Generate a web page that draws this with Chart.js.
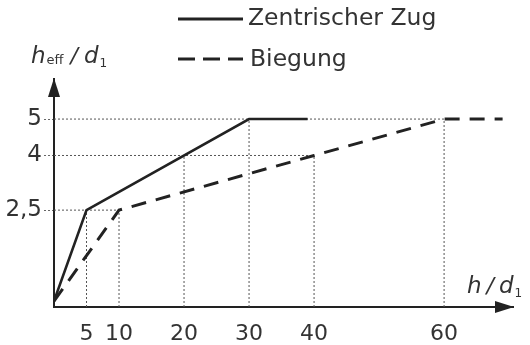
<!DOCTYPE html>
<html>
<head>
<meta charset="utf-8">
<script src="https://cdn.jsdelivr.net/npm/chart.js@4"></script>
<style>
  html, body { margin: 0; padding: 0; background: #fff; }
  .chart-container { position: relative; width: 530px; height: 345px; }
</style>
</head>
<body>
<div class="chart-container"><canvas id="chart"></canvas></div>
<script>
// values (h/d1 -> heff/d1)
const zugX = [0, 5, 30, 39];
const zugY = [0, 2.5, 5, 5];
const biegungX = [0, 10, 40, 60, 69];
const biegungY = [0, 2.5, 4, 5, 5];

// dotted helper lines
const guideX = [5, 10, 20, 30, 40, 60];
const guideTop = [2.5, 2.5, 4, 5, 4, 5];
const levelY = [2.5, 4, 5];
const levelEnd = [10, 40, 60];

const xTicks = [5, 10, 20, 30, 40, 60];
const yTicks = [2.5, 4, 5];
const seriesNames = ['Zentrischer Zug', 'Biegung'];

const xMin = 0, xMax = 70.6, yMin = -0.16, yMax = 6.1;
const ink = '#222';
const font = '"DejaVu Sans", sans-serif';

const toPts = (xs, ys) => xs.map((x, i) => ({ x: x, y: ys[i] }));

const guideStyle = {
  borderColor: '#555',
  borderWidth: 1,
  borderDash: [2, 2],
  pointRadius: 0,
  fill: false,
};

const guides = [];
guideX.forEach((x, i) => {
  guides.push(Object.assign({ data: [{ x: x, y: yMin }, { x: x, y: guideTop[i] }] }, guideStyle));
});
levelY.forEach((y, i) => {
  guides.push(Object.assign({ data: [{ x: xMin, y: y }, { x: levelEnd[i], y: y }] }, guideStyle));
});

// legend, arrows and axis titles
const decor = {
  id: 'decor',
  afterDraw(chart) {
    const { ctx, chartArea: a } = chart;
    ctx.save();
    ctx.fillStyle = ink;
    ctx.strokeStyle = ink;

    // arrow heads
    ctx.beginPath();
    ctx.moveTo(a.left, a.top - 1);
    ctx.lineTo(a.left - 6, a.top + 18);
    ctx.lineTo(a.left + 6, a.top + 18);
    ctx.closePath();
    ctx.fill();
    ctx.beginPath();
    ctx.moveTo(a.right + 1, a.bottom);
    ctx.lineTo(a.right - 18, a.bottom - 6);
    ctx.lineTo(a.right - 18, a.bottom + 6);
    ctx.closePath();
    ctx.fill();

    // legend
    ctx.lineWidth = 3;
    ctx.beginPath();
    ctx.moveTo(178, 19);
    ctx.lineTo(243, 19);
    ctx.stroke();
    ctx.setLineDash([17, 8]);
    ctx.beginPath();
    ctx.moveTo(178, 59);
    ctx.lineTo(243, 59);
    ctx.stroke();
    ctx.setLineDash([]);

    ctx.fillStyle = '#333';
    ctx.textBaseline = 'middle';
    ctx.textAlign = 'left';
    ctx.font = '23.5px ' + font;
    ctx.fillText(seriesNames[0], 248, 19);
    ctx.fillText(seriesNames[1], 250, 60);

    // axis titles, written piece by piece
    ctx.textBaseline = 'alphabetic';
    const run = (parts, x, y) => {
      parts.forEach(p => {
        ctx.font = (p.it ? 'italic ' : '') + p.s + 'px ' + font;
        ctx.fillText(p.t, x, y + (p.dy || 0));
        x += ctx.measureText(p.t).width + (p.gap || 0);
      });
    };
    run([
      { t: 'h', s: 23, it: true, gap: 1 },
      { t: 'eff', s: 13, it: false, dy: 1, gap: 7 },
      { t: '/', s: 22, it: true, gap: 6 },
      { t: 'd', s: 23, it: true, gap: 1 },
      { t: '1', s: 12, dy: 4 },
    ], 31, 63);
    run([
      { t: 'h', s: 23, it: true, gap: 5 },
      { t: '/', s: 22, it: true, gap: 5 },
      { t: 'd', s: 23, it: true, gap: 1 },
      { t: '1', s: 12, dy: 4 },
    ], 467, 293);
    ctx.restore();
  }
};

new Chart(document.getElementById('chart'), {
  type: 'line',
  data: {
    datasets: [
      {
        label: seriesNames[0],
        data: toPts(zugX, zugY),
        borderColor: ink,
        borderWidth: 2.6,
        pointRadius: 0,
        fill: false,
      },
      {
        label: seriesNames[1],
        data: toPts(biegungX, biegungY),
        borderColor: ink,
        borderWidth: 3,
        borderDash: [15, 10],
        pointRadius: 0,
        fill: false,
      },
    ].concat(guides),
  },
  options: {
    responsive: true,
    maintainAspectRatio: false,
    devicePixelRatio: 1,
    animation: false,
    layout: { padding: { top: 79, right: 17, left: 0, bottom: 0 } },
    plugins: {
      legend: { display: false },
      tooltip: { enabled: false },
    },
    scales: {
      x: {
        type: 'linear',
        min: xMin,
        max: xMax,
        afterBuildTicks: (scale) => { scale.ticks = xTicks.map(v => ({ value: v })); },
        afterFit: (scale) => { scale.height = 38; },
        grid: { display: false },
        border: { display: true, color: ink, width: 2 },
        ticks: {
          color: '#333',
          font: { family: font, size: 22 },
          padding: 6,
          maxRotation: 0,
          autoSkip: false,
        },
      },
      y: {
        type: 'linear',
        min: yMin,
        max: yMax,
        afterBuildTicks: (scale) => { scale.ticks = yTicks.map(v => ({ value: v })); },
        afterFit: (scale) => { scale.width = 54; },
        grid: {
          display: true,
          drawOnChartArea: false,
          tickLength: 10,
          tickColor: '#666',
          tickWidth: 1,
          tickBorderDash: [2, 2],
        },
        border: { display: true, color: ink, width: 2 },
        ticks: {
          color: '#333',
          font: { family: font, size: 23 },
          padding: 2,
          autoSkip: false,
          callback: (v) => String(v).replace('.', ','),
        },
      },
    },
  },
  plugins: [decor],
});
</script>
</body>
</html>
